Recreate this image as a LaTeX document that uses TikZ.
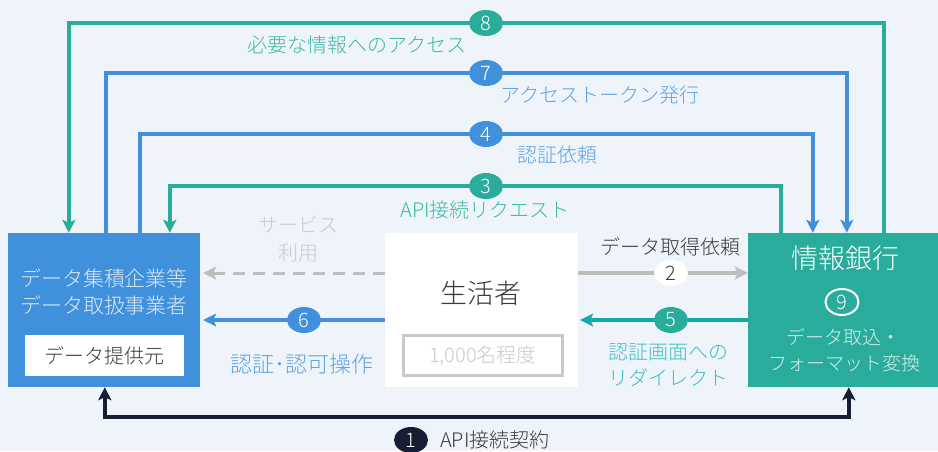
\documentclass[tikz,border=0pt]{standalone}
\usepackage{fontspec}
\setmainfont{Noto Sans CJK JP}[UprightFont={* Light}]
\usetikzlibrary{arrows.meta,shapes.geometric}
\definecolor{bgc}{HTML}{EFF4FA}
\definecolor{blu}{HTML}{4190DB}
\definecolor{tealc}{HTML}{2AAC9C}
\definecolor{cyn}{HTML}{12A9AF}
\definecolor{navy}{HTML}{151E33}
\definecolor{gry}{HTML}{BDBDBD}
\definecolor{lgry}{HTML}{C9C9C9}
\definecolor{dtxt}{HTML}{3A3A3A}
\definecolor{bluetxt}{HTML}{5EA2E2}
\definecolor{tealtxt}{HTML}{3BB8A8}
\definecolor{cyntxt}{HTML}{3EBDC8}
\definecolor{lbtxt}{HTML}{D9E9F9}
\definecolor{ltxt}{HTML}{D5EFEA}
\pgfdeclarelayer{bg}\pgfdeclarelayer{lines}\pgfsetlayers{bg,lines,main}
\begin{document}
\begin{tikzpicture}[x=1pt,y=-1pt,
  box/.style={rectangle, minimum width=#1, minimum height=154pt, inner sep=0pt},
  txt/.style={inner sep=0pt, font=\fontsize{#1}{#1}\selectfont},
  badge/.style={ellipse, minimum width=34pt, minimum height=26pt, inner sep=0pt, fill=#1, text=white, font=\fontsize{20}{20}\selectfont},
  tip/.style={-{Stealth[length=13pt,width=13pt,inset=3pt]}},
  conn/.style={line width=4pt, draw=#1, tip},
]
\useasboundingbox (0,0) rectangle (938,451);
\begin{pgfonlayer}{bg}
\fill[bgc] (0,0) rectangle (938,451);
\end{pgfonlayer}

% boxes
\node[box=192pt, fill=blu] (L) at (104,310) {};
\node[box=193pt, fill=white] (C) at (481.5,310) {};
\node[box=190pt, fill=tealc] (R) at (843,310) {};

% left box texts
\node[txt=21, text=lbtxt] (l1) at (104,278) {データ集積企業等};
\node[txt=21, text=lbtxt] (l2) at (104,305) {データ取扱事業者};
\node[rectangle, fill=white, minimum width=159pt, minimum height=41pt, inner sep=0pt, text=dtxt, font=\fontsize{20}{20}\selectfont] (prov) at (104.5,355.5) {データ提供元};

% center box texts
\node[txt=27, text=dtxt] (c1) at (481,293) {生活者};
\node[rectangle, draw=lgry, line width=2.5pt, fill=white, minimum width=159pt, minimum height=40pt, inner sep=0pt, text=lgry, font=\fontsize{20}{20}\selectfont] (cnt) at (483,355.5) {1,000名程度};

% right box texts
\node[txt=27, text=white] (r1) at (845,258) {情報銀行};
\node[ellipse, draw=white, line width=2pt, minimum width=33pt, minimum height=26pt, inner sep=0pt, text=white, font=\fontsize{20}{20}\selectfont] (b9) at (842,302) {9};
\node[txt=19, text=ltxt] (r2) at (843,337) {データ取込・};
\node[txt=19, text=ltxt] (r3) at (844,363) {フォーマット変換};

% badges
\node[badge=tealc] (b8) at (486,23) {8};
\node[badge=blu] (b7) at (486,73) {7};
\node[badge=blu] (b4) at (486,134) {4};
\node[badge=tealc] (b3) at (486,186) {3};
\node[badge=white, text=dtxt] (b2) at (671,273) {2};
\node[badge=tealc] (b5) at (671,320) {5};
\node[badge=blu] (b6) at (304,320) {6};
\node[badge=navy] (b1) at (411,440) {1};

% labels
\node[txt=20, text=tealtxt] (t8) at (357,45) {必要な情報へのアクセス};
\node[txt=20, text=bluetxt] (t7) at (600,95) {アクセストークン発行};
\node[txt=20, text=bluetxt] (t4) at (557,155) {認証依頼};
\node[txt=20, text=tealtxt] (t3) at (485,210) {API接続リクエスト};
\node[txt=20, text=lgry] (ts1) at (298,225) {サービス};
\node[txt=20, text=lgry] (ts2) at (298,253) {利用};
\node[txt=20, text=dtxt] (t2) at (670,247) {データ取得依頼};
\node[txt=20, text=cyntxt] (t5a) at (668,352) {認証画面への};
\node[txt=20, text=cyntxt] (t5b) at (668,378) {リダイレクト};
\node[txt=22, text=bluetxt] (t6) at (302,364) {認証･認可操作};
\node[txt=20, text=dtxt, anchor=west] (t1) at (440,440) {API接続契約};

% connectors
\begin{pgfonlayer}{lines}
\draw[conn=tealc] ([xshift=136pt]R.north west) |- (b8.center) -| ([xshift=61pt]L.north west);
\draw[conn=blu] ([xshift=98pt]L.north west) |- (b7.center) -| ([xshift=99pt]R.north west);
\draw[conn=blu] ([xshift=132pt]L.north west) |- (b4.center) -| ([xshift=65pt]R.north west);
\draw[conn=tealc] ([xshift=33pt]R.north west) |- (b3.center) -| ([xshift=162pt]L.north west);
\draw[line width=3pt, draw=gry, dash pattern=on 12pt off 8pt, tip, shorten >=3pt] (C.west |- 0,273) -- (L.east |- 0,273);
\draw[conn=gry] (C.east |- b2) -- (R.west |- b2);
\draw[conn=cyn, shorten >=2pt] (R.west |- b5) -- (C.east |- b5);
\draw[conn=blu, shorten >=3pt] (C.west |- b6) -- (L.east |- b6);
\draw[line width=3.5pt, draw=navy, {Stealth[length=13pt,width=13pt,inset=3pt]}-{Stealth[length=13pt,width=13pt,inset=3pt]}] ([xshift=97pt]L.south west) -- ++(0,30) -| ([xshift=101pt]R.south west);
\end{pgfonlayer}
\end{tikzpicture}
\end{document}
